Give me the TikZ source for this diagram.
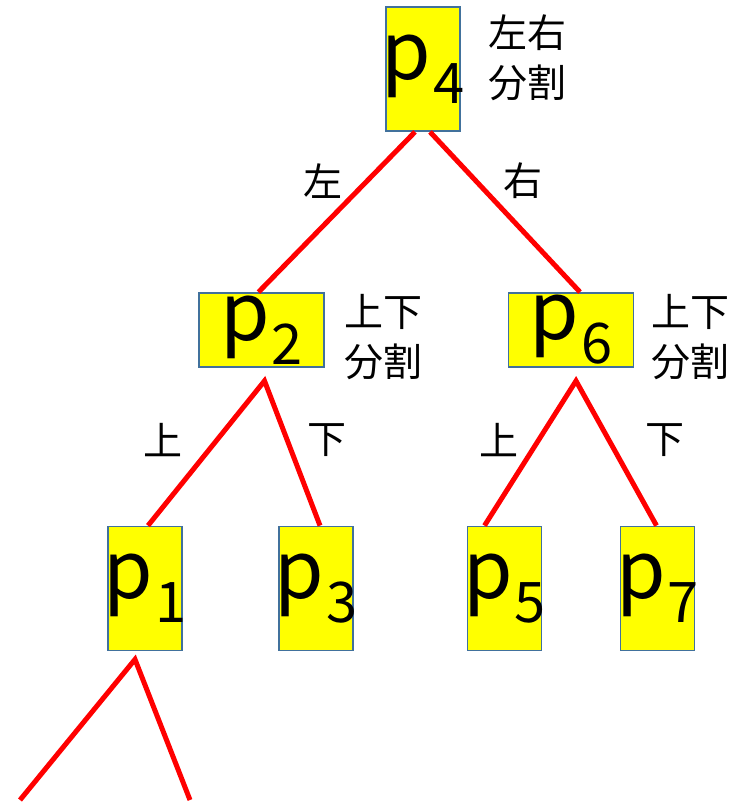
\documentclass[tikz,border=0pt]{standalone}
\usepackage{fontspec}
\setmainfont{Noto Sans CJK JP}
\usetikzlibrary{calc}

\definecolor{boxblue}{HTML}{41719C}
\definecolor{boxfill}{HTML}{FFFF00}
\definecolor{edgered}{HTML}{FF0000}
\newcommand{\pname}[1]{\makebox[0pt][c]{\fontsize{80}{80}\selectfont p\kern2pt\raisebox{-24pt}{\fontsize{56}{56}\selectfont #1}}}

\begin{document}
\begin{tikzpicture}[x=1pt,y=-1pt,
  box/.style={draw=boxblue,line width=1.8pt,fill=boxfill,inner sep=0pt},
  tall/.style={box,minimum width=74pt,minimum height=124pt},
  wide/.style={box,minimum width=125pt,minimum height=74pt},
  edge/.style={edgered,line width=5pt},
  lab/.style={font=\fontsize{39}{50}\selectfont,align=left,inner sep=0pt}]
  \useasboundingbox (0,0) rectangle (744,808);
  % tree
  \node[tall] (p4) at (423,69) {\pname{4}};
  \node[wide] (p2) at (261.5,330) {\pname{2}};
  \node[wide] (p6) at (571,330) {\pname{6}};
  \node[tall] (p1) at (145,588.5) {\pname{1}};
  \node[tall] (p3) at (316,588.5) {\pname{3}};
  \node[tall] (p5) at (504.5,588.5) {\pname{5}};
  \node[tall] (p7) at (657.5,588.5) {\pname{7}};
  \coordinate (s2) at ([xshift=3pt,yshift=-13pt]p2.south);
  \coordinate (s6) at ([xshift=5pt,yshift=-13pt]p6.south);
  \coordinate (s1) at ([xshift=-10pt,yshift=-8pt]p1.south);
  \coordinate (l1) at (20,800); \coordinate (r1) at (190,800);
  \draw[edge] ([xshift=-8pt]p4.south) -- ([xshift=-3pt]p2.north);
  \draw[edge] ([xshift=7pt]p4.south) -- ([xshift=9pt]p6.north);
  \draw[edge] ([xshift=3pt]p1.north) -- (s2) -- ([xshift=4pt]p3.north);
  \draw[edge] ([xshift=-20pt]p5.north) -- (s6) -- ([xshift=-1pt]p7.north);
  \draw[edge] (l1) -- (s1) -- (r1);
  % labels
  \node[lab] (t4) at (527,58) {左右\\分割};
  \node[lab] (t2) at (383,337) {上下\\分割};
  \node[lab] (t6) at (690,337) {上下\\分割};
  \node[lab] (e42) at (323,181) {左};
  \node[lab] (e46) at (523,181) {右};
  \node[lab] (e21) at (163,440) {上};
  \node[lab] (e23) at (327,440) {下};
  \node[lab] (e65) at (499,440) {上};
  \node[lab] (e67) at (665,440) {下};
\end{tikzpicture}
\end{document}
